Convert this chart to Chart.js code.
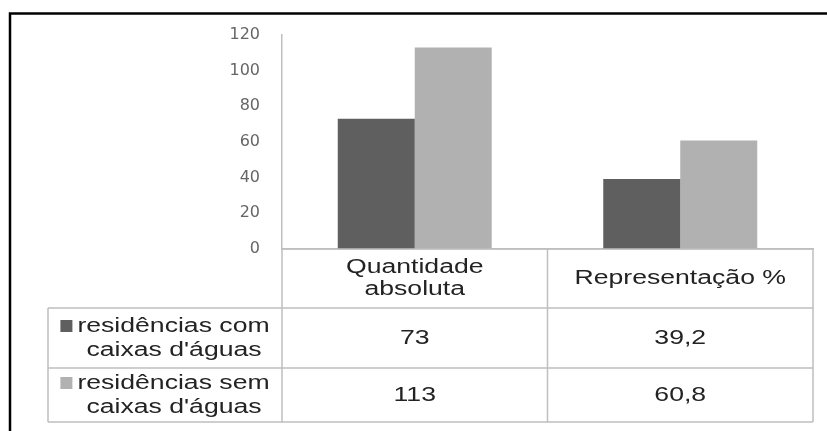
<!DOCTYPE html>
<html>
<head>
<meta charset="utf-8">
<script src="https://cdn.jsdelivr.net/npm/chart.js@4.4.0/dist/chart.umd.min.js"></script>
<style>
  html, body { margin: 0; padding: 0; background: #fff; }
  #wrap { position: relative; width: 827px; height: 431px; }
</style>
</head>
<body>
<div id="wrap"><canvas id="c" width="827" height="431"></canvas></div>
<script>
// Categories (column headers of the data table), one array entry per line
const categories = [['Quantidade', 'absoluta'], ['Representação %']];
// Series names as shown in the legend cells of the table
const seriesNames = [['residências com', "caixas d'águas"], ['residências sem', "caixas d'águas"]];
// Series values
const comCaixas = [73, 39.2];
const semCaixas = [113, 60.8];
// Y axis tick values
const yTicks = [0, 20, 40, 60, 80, 100, 120];

const colors = ['#5f5f5f', '#b1b1b1'];
const seriesValues = [comCaixas, semCaixas];

const TEXT_FONT = '20px "Liberation Sans", Arial, sans-serif';
const TEXT_STRETCH = 1.33;
const TEXT_COLOR = '#232323';
const LINE_COLOR = '#bfbfbf';

function fmt(v) {
  return String(v).replace('.', ',');
}

// Draws horizontally widened text; x is the left edge or the centre
function wideText(ctx, text, x, y, align) {
  ctx.save();
  ctx.font = TEXT_FONT;
  ctx.textBaseline = 'middle';
  ctx.textAlign = 'left';
  const w = ctx.measureText(text).width * TEXT_STRETCH;
  const startX = align === 'center' ? x - w / 2 : x;
  ctx.translate(startX, y);
  ctx.scale(TEXT_STRETCH, 1);
  ctx.fillText(text, 0, 0);
  ctx.restore();
  return w;
}

function textWidth(ctx, text) {
  ctx.save();
  ctx.font = TEXT_FONT;
  const w = ctx.measureText(text).width * TEXT_STRETCH;
  ctx.restore();
  return w;
}

// Data table under the plot plus the outer frame
const dataTable = {
  id: 'dataTable',
  afterDraw(chart) {
    const { ctx, chartArea, scales: { x } } = chart;
    const top = chartArea.bottom;
    const rowBottoms = [top + 59, top + 119, top + 173];
    const legendLeft = 48;
    const colEdges = [];
    for (let i = 0; i <= categories.length; i++) colEdges.push(x.getPixelForValue(i - 0.5));
    const right = colEdges[colEdges.length - 1];

    ctx.save();
    ctx.strokeStyle = LINE_COLOR;
    ctx.lineWidth = 1.5;
    ctx.beginPath();
    // header top
    ctx.moveTo(colEdges[0], top); ctx.lineTo(right, top);
    // row separators
    rowBottoms.forEach(y => { ctx.moveTo(legendLeft, y); ctx.lineTo(right, y); });
    // column edges
    colEdges.forEach(cx => { ctx.moveTo(cx, top); ctx.lineTo(cx, rowBottoms[2]); });
    // legend column left edge
    ctx.moveTo(legendLeft, rowBottoms[0]); ctx.lineTo(legendLeft, rowBottoms[2]);
    ctx.stroke();

    ctx.fillStyle = TEXT_COLOR;
    // header cells
    categories.forEach((lines, i) => {
      const cx = (colEdges[i] + colEdges[i + 1]) / 2;
      const mid = (top + rowBottoms[0]) / 2;
      const lh = 22;
      lines.forEach((t, k) => {
        wideText(ctx, t, cx, mid + (k - (lines.length - 1) / 2) * lh, 'center');
      });
    });

    // series rows
    seriesValues.forEach((vals, r) => {
      const rTop = rowBottoms[r], rBot = rowBottoms[r + 1];
      const mid = (rTop + rBot) / 2;
      // legend cell
      const legendCx = (legendLeft + colEdges[0]) / 2;
      const names = seriesNames[r];
      const sq = 12, gap = 5;
      const l1w = textWidth(ctx, names[0]);
      const groupW = sq + gap + l1w;
      const gx = legendCx - groupW / 2;
      const y1 = mid - 12, y2 = mid + 12;
      ctx.fillStyle = colors[r];
      ctx.fillRect(gx, y1 - sq / 2, sq, sq);
      ctx.fillStyle = TEXT_COLOR;
      wideText(ctx, names[0], gx + sq + gap, y1, 'left');
      wideText(ctx, names[1], legendCx + 9, y2, 'center');
      // values
      vals.forEach((v, i) => {
        const cx = (colEdges[i] + colEdges[i + 1]) / 2;
        wideText(ctx, fmt(v), cx, mid, 'center');
      });
    });

    // outer frame
    ctx.strokeStyle = '#000';
    ctx.lineWidth = 2.5;
    ctx.beginPath();
    ctx.moveTo(10, chart.height); ctx.lineTo(10, 13.5); ctx.lineTo(chart.width, 13.5);
    ctx.stroke();
    ctx.restore();
  }
};

new Chart(document.getElementById('c'), {
  type: 'bar',
  data: {
    labels: categories,
    datasets: [
      { label: seriesNames[0].join(' '), data: comCaixas, backgroundColor: colors[0] },
      { label: seriesNames[1].join(' '), data: semCaixas, backgroundColor: colors[1] }
    ]
  },
  options: {
    responsive: false,
    animation: false,
    layout: { padding: { top: 35, right: 14, left: 0, bottom: 0 } },
    datasets: { bar: { categoryPercentage: 0.58, barPercentage: 1.0 } },
    plugins: { legend: { display: false }, tooltip: { enabled: false } },
    scales: {
      x: {
        grid: { display: false, drawTicks: false },
        border: { display: true, color: LINE_COLOR, width: 1.5 },
        ticks: { display: false },
        afterFit(scale) { scale.height = 182; }
      },
      y: {
        min: 0,
        max: 120,
        afterBuildTicks(scale) { scale.ticks = yTicks.map(v => ({ value: v })); },
        grid: { display: false, drawTicks: false },
        border: { display: true, color: LINE_COLOR, width: 1.5 },
        ticks: {
          padding: 22,
          color: '#666666',
          font: { family: '"DejaVu Sans", sans-serif', size: 16 }
        },
        afterFit(scale) { scale.width = 282; }
      }
    }
  },
  plugins: [dataTable]
});
</script>
</body>
</html>
